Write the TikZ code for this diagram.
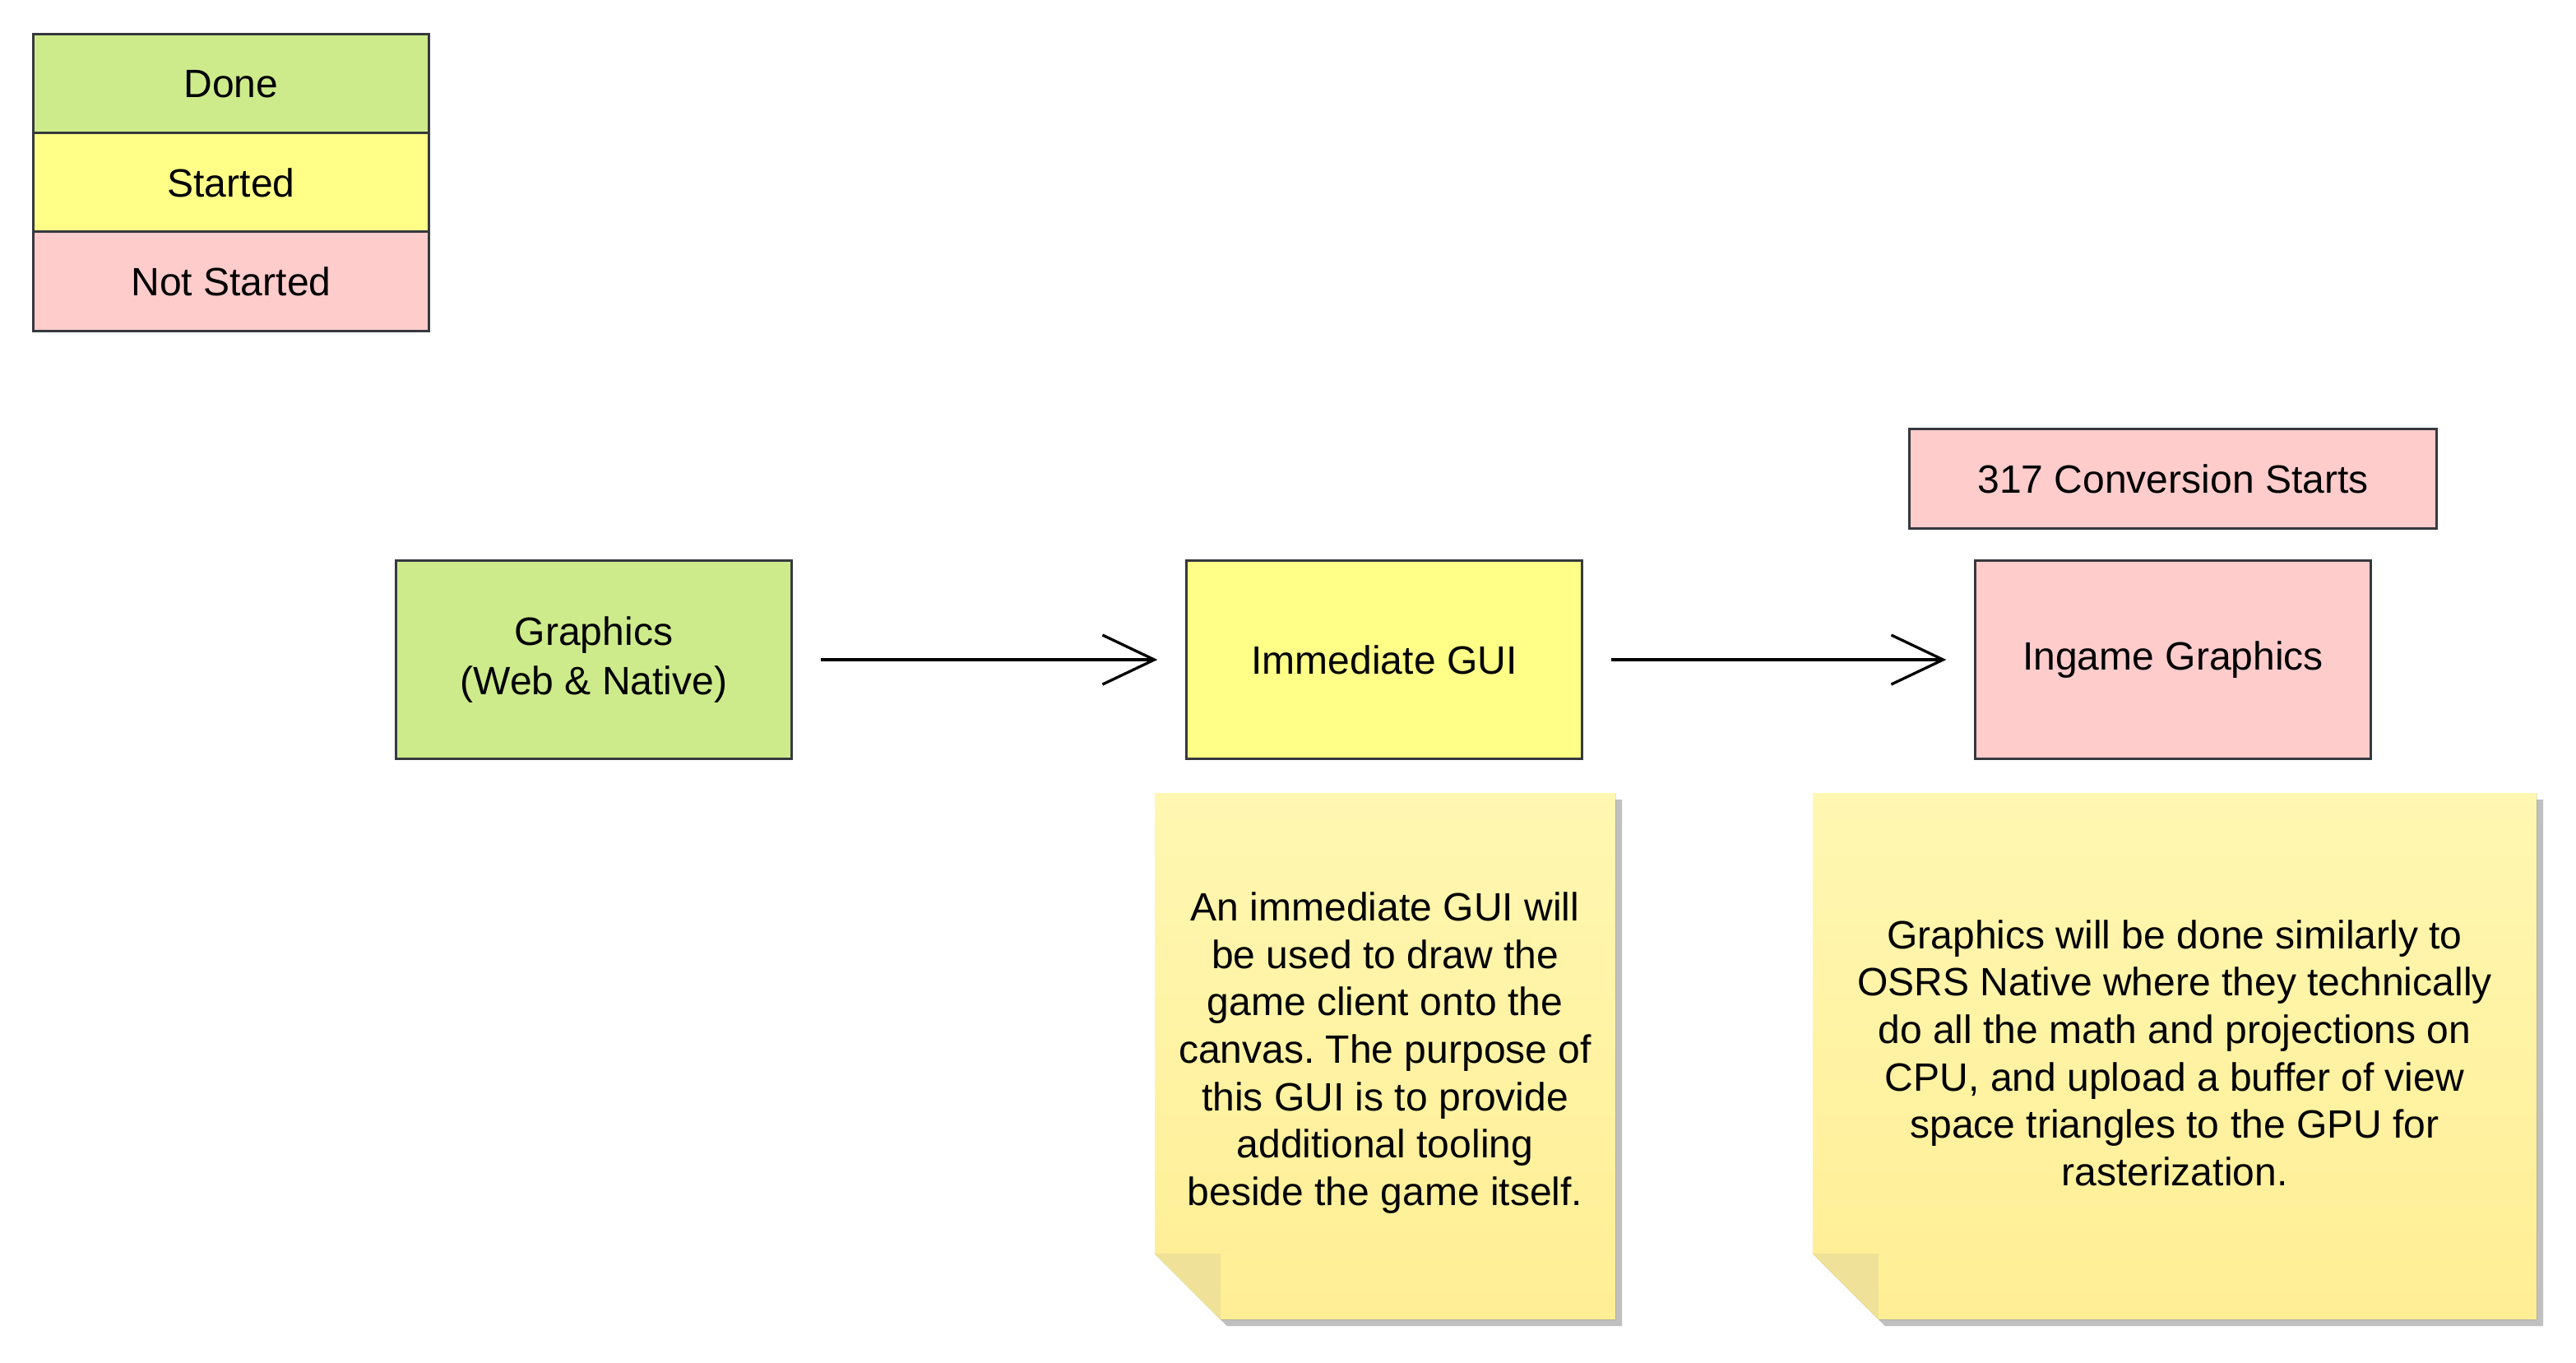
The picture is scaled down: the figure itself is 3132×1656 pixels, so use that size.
\documentclass[tikz,border=0pt]{standalone}
\usepackage{fontspec}
\setmainfont{Liberation Sans}
\usetikzlibrary{arrows.meta,positioning}
\definecolor{donegreen}{HTML}{CDEB8B}
\definecolor{startyellow}{HTML}{FFFF88}
\definecolor{notpink}{HTML}{FFCCCC}
\definecolor{boxline}{HTML}{36393D}
\definecolor{notetop}{HTML}{FFF7B2}
\definecolor{notebot}{HTML}{FFEE94}
\definecolor{notefold}{HTML}{EFE298}
\definecolor{noteshadow}{HTML}{C0C0C0}
\frenchspacing
\tikzset{
  status/.style={draw=boxline,line width=0.03cm,minimum width=4.8cm,minimum height=1.2cm,
    align=center,inner sep=0pt,font=\fontsize{13.66}{17}\selectfont},
  stage/.style={status,minimum height=2.4cm},
  flow/.style={line width=0.033cm,-{Straight Barb[length=0.63cm,width=0.6cm]},
    shorten <=0.34cm,shorten >=0.34cm},
  notetext/.style={align=center,inner sep=0pt,font=\fontsize{13.66}{16.4}\selectfont},
  notebody/.style={top color=notetop,bottom color=notebot,draw=none},
}

\begin{document}
\begin{tikzpicture}[x=0.01cm,y=-0.01cm]
  \useasboundingbox (0,0) rectangle (3132,1656);
  % legend
  \node[status,fill=donegreen] (done) at (281,102) {Done};
  \node[status,fill=startyellow] (started) at (281,222) {Started};
  \node[status,fill=notpink] (notstarted) at (281,342) {Not Started};

  % roadmap
  \node[stage,fill=donegreen] (graphics) at (722,802) {Graphics\\(Web \& Native)};
  \node[stage,fill=startyellow] (gui) at (1683,802) {Immediate GUI};
  \node[stage,fill=notpink] (ingame) at (2642,802) {Ingame Graphics};
  \node[status,fill=notpink,minimum width=6.4cm] (conv) at (2642,582) {317 Conversion Starts};
  \draw[flow] (graphics) -- (gui);
  \draw[flow] (gui) -- (ingame);

  % notes
  \fill[noteshadow] (1412,972)--(1972,972)--(1972,1612)--(1492,1612)--(1412,1532)--cycle;
  \fill[notebody] (1404,964)--(1964,964)--(1964,1604)--(1484,1604)--(1404,1524)--cycle;
  \fill[notefold] (1404,1524)--(1484,1524)--(1484,1604)--cycle;
  \node[notetext] (guinote) at (1684,1280) {An immediate GUI will\\be used to draw the\\game client onto the\\canvas. The purpose of\\this GUI is to provide\\additional tooling\\beside the game itself.};

  \fill[noteshadow] (2212,972)--(3092,972)--(3092,1612)--(2292,1612)--(2212,1532)--cycle;
  \fill[notebody] (2204,964)--(3084,964)--(3084,1604)--(2284,1604)--(2204,1524)--cycle;
  \fill[notefold] (2204,1524)--(2284,1524)--(2284,1604)--cycle;
  \node[notetext] (ingamenote) at (2644,1280) {Graphics will be done similarly to\\OSRS Native where they technically\\do all the math and projections on\\CPU, and upload a buffer of view\\space triangles to the GPU for\\rasterization.};
\end{tikzpicture}
\end{document}
